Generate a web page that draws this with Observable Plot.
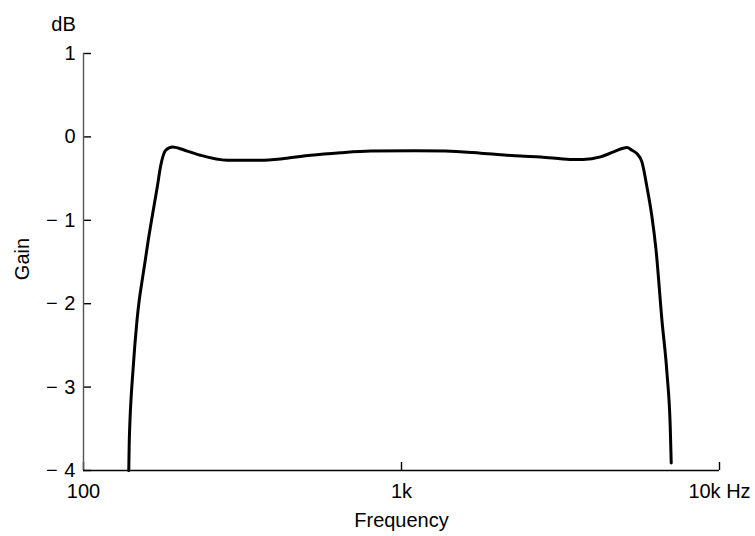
<!DOCTYPE html>
<html>
<head>
<meta charset="utf-8">
<script src="https://cdn.jsdelivr.net/npm/d3@7"></script>
<script src="https://cdn.jsdelivr.net/npm/@observablehq/plot@0.6"></script>
<style>
  html, body { margin: 0; padding: 0; background: #fff; }
</style>
</head>
<body>
<div id="chart"></div>
<script>
// Frequency response (Hz) and gain (dB)
const frequency = [138.8, 139.2, 140.0, 141.3, 142.9, 145.0, 147.3, 149.7, 152.5, 156.4, 159.8, 164.5, 170.6, 175.0, 177.6, 181.4, 190.4, 212, 233, 283, 360, 427, 518, 644, 800, 1100, 1377, 1774, 2370, 2736, 3396, 3722, 4227, 4645, 5117, 5305, 5495, 5702, 5913, 6133, 6310, 6592, 6839, 7000, 7050];
const gain      = [-4.0, -3.70, -3.40, -3.10, -2.83, -2.50, -2.20, -1.96, -1.75, -1.48, -1.24, -0.95, -0.60, -0.34, -0.24, -0.16, -0.12, -0.17, -0.22, -0.28, -0.28, -0.26, -0.22, -0.19, -0.17, -0.165, -0.17, -0.195, -0.23, -0.24, -0.27, -0.27, -0.24, -0.18, -0.127, -0.16, -0.2, -0.3, -0.6, -0.96, -1.34, -2.2, -2.84, -3.48, -3.91];

const xTicks = [100, 1000, 10000];
const xTickLabels = ["100", "1k", "10k Hz"];
const yTicks = [1, 0, -1, -2, -3, -4];
const yTickLabels = ["1", "0", "\u2212\u2004" + "1", "\u2212\u2004" + "2", "\u2212\u2004" + "3", "\u2212\u2004" + "4"];

const xTitle = "Frequency";
const yTitle = "Gain";
const yUnit = "dB";

const points = frequency.map((f, i) => ({f, g: gain[i]}));

const W = 755, H = 536;
const mL = 83, mR = 36, mT = 53, mB = 66;
const frameW = W - mL - mR, frameH = H - mT - mB;

const chart = Plot.plot({
  width: W,
  height: H,
  marginLeft: mL,
  marginRight: mR,
  marginTop: mT,
  marginBottom: mB,
  style: {fontFamily: "Liberation Sans, Arial, Helvetica, sans-serif", fontSize: "20px", color: "#000", background: "#fff"},
  x: {type: "log", domain: [100, 10000]},
  y: {domain: [-4, 1]},
  marks: [
    Plot.axisY({ticks: yTicks, tickSize: 0, tickPadding: 8, fontSize: 20, label: null,
      tickFormat: d => yTickLabels[yTicks.indexOf(d)]}),
    Plot.axisX({ticks: xTicks, tickSize: 0, tickPadding: 13, fontSize: 20, label: null,
      tickFormat: d => xTickLabels[xTicks.indexOf(d)]}),
    Plot.tickY(yTicks, {y: d => d, stroke: "#000", strokeWidth: 1.4, insetRight: frameW - 8}),
    Plot.tickX(xTicks, {x: d => d, stroke: "#000", strokeWidth: 1.4, insetTop: frameH - 8}),
    Plot.ruleX([100], {stroke: "#555", strokeWidth: 1.4}),
    Plot.ruleY([-4], {stroke: "#000", strokeWidth: 1.3}),
    Plot.line(points, {x: "f", y: "g", stroke: "#000", strokeWidth: 3, curve: "monotone-x"}),
    Plot.text([yUnit], {frameAnchor: "top-left", dx: -20, dy: -29, fontSize: 20, textAnchor: "middle", lineAnchor: "middle"}),
    Plot.text([yTitle], {frameAnchor: "left", dx: -61, dy: -3, rotate: -90, fontSize: 20, textAnchor: "middle", lineAnchor: "middle"}),
    Plot.text([xTitle], {frameAnchor: "bottom", dy: 50, fontSize: 20, textAnchor: "middle", lineAnchor: "middle"})
  ]
});
document.getElementById("chart").appendChild(chart);
</script>
</body>
</html>
